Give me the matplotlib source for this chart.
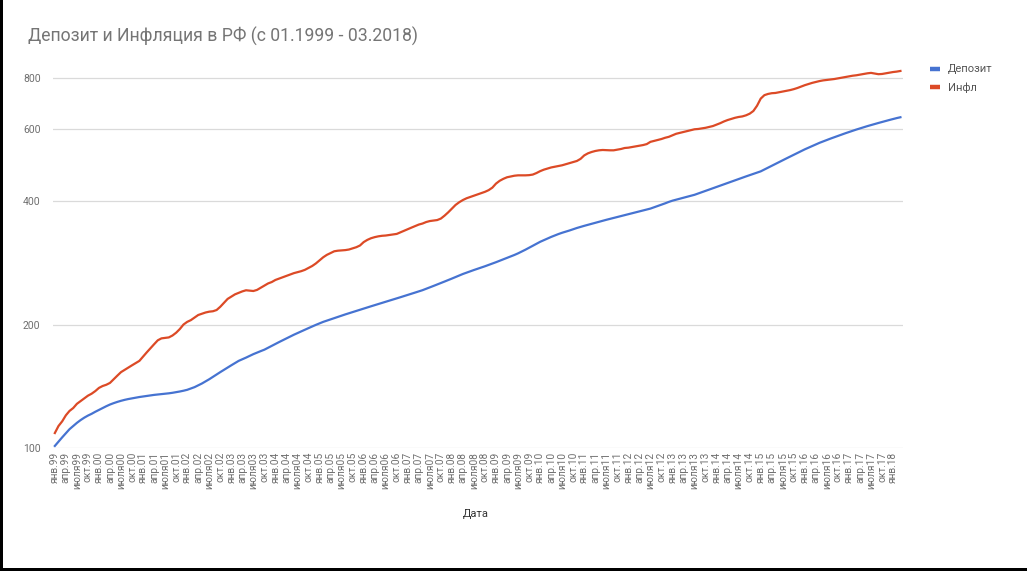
import matplotlib
matplotlib.use('Agg')
import matplotlib.pyplot as plt
from matplotlib.ticker import FixedLocator, NullLocator, FixedFormatter
from matplotlib.patches import Rectangle

plt.rcParams['font.family'] = ['Roboto', 'DejaVu Sans']

# ---------------- data ----------------
title = 'Депозит и Инфляция в РФ (с 01.1999 - 03.2018)'
x_title = 'Дата'
series_names = ['Депозит', 'Инфл']

quarter_names = ['янв.', 'апр.', 'июля', 'окт.']
years = list(range(1999, 2019))
n_months = 231  # 01.1999 .. 03.2018

deposit = [
    101, 103.5, 106, 108.5, 111, 113, 115, 116.8, 118.4, 119.8, 121, 122.4,
    123.7, 125, 126.3, 127.5, 128.5, 129.4, 130.2, 130.9, 131.5, 132, 132.5, 133,
    133.4, 133.8, 134.2, 134.6, 134.9, 135.2, 135.5, 135.8, 136.2, 136.7, 137.2, 137.8,
    138.5, 139.5, 140.6, 142, 143.5, 145.2, 147, 149, 151, 153, 155, 157,
    159, 161, 163, 164.5, 166, 167.7, 169.3, 170.8, 172.2, 173.6, 175.5, 177.4,
    179.3, 181.2, 183.1, 185, 187, 188.8, 190.6, 192.4, 194.2, 196, 197.8, 199.6,
    201.3, 203, 204.4, 205.9, 207.3, 208.8, 210.2, 211.7, 213.1, 214.6, 216, 217.4,
    218.8, 220.2, 221.6, 223, 224.5, 225.9, 227.3, 228.7, 230.2, 231.7, 233.2, 234.7,
    236.2, 237.8, 239.4, 241, 242.6, 244.5, 246.5, 248.5, 250.5, 252.6, 254.7, 256.8,
    259, 261.3, 263.6, 265.8, 267.8, 269.8, 271.8, 273.7, 275.6, 277.6, 279.7, 281.8,
    284, 286.3, 288.6, 291, 293.4, 295.8, 298.5, 301.5, 304.7, 308, 311.5, 315,
    318.5, 321.5, 324.5, 327.4, 330.2, 332.8, 335.2, 337.3, 339.5, 342, 344.3, 346.5,
    348.5, 350.5, 352.5, 354.5, 356.5, 358.5, 360.5, 362.4, 364.3, 366.2, 368.1, 370,
    372, 374, 376, 378, 380, 382, 384, 386.8, 389.6, 392.5, 395.5, 398.7,
    401.5, 403.8, 406, 408.2, 410.4, 412.6, 415, 418, 421, 424.2, 427.4, 430.6,
    433.8, 437, 440.3, 443.6, 447, 450.3, 453.6, 456.9, 460.2, 463.5, 466.8, 470.1,
    473.5, 478.5, 483.5, 488.7, 493.9, 499, 504, 509.3, 514.6, 520, 525.3, 530.6,
    536, 541, 546, 551, 556, 560.5, 565, 569.4, 573.7, 578, 582.3, 586.6,
    590.8, 595, 599, 603, 607, 610.7, 614.4, 618, 621.6, 625.2, 628.7, 632.2,
    635.6, 639, 642,
]

inflation = [
    108.6, 113, 116, 120, 123, 125, 128, 130, 132, 134, 135.5, 137.5,
    140, 141.5, 142.5, 144, 147, 150, 153, 155, 157, 159, 161, 163,
    167, 171, 175, 179, 183, 185, 185.5, 186, 188, 191, 195, 200,
    203, 205, 208, 211, 212.5, 214, 215, 215.5, 217, 221, 226, 231,
    234, 237, 239, 241, 242.5, 242, 241.5, 243, 246, 249, 252, 254,
    257, 259, 261, 263, 265, 267, 268.5, 270, 272, 275, 278, 282,
    287, 292, 296, 299, 302, 303, 303.5, 304, 305, 307, 309, 312,
    318, 322, 325, 327, 328.5, 329.5, 330, 331, 332, 333, 336, 339,
    342, 345, 348, 351, 353, 356, 358, 359, 360, 363, 369, 376,
    384, 392, 398, 403, 407, 410, 413, 416, 419, 422, 426, 432,
    442, 449, 454, 458, 460, 462, 463, 463, 463, 463.5, 465, 469,
    474, 478, 481, 484, 486, 488, 490, 493, 496, 499, 502, 508,
    518, 524, 528, 531, 533, 534, 533.5, 533, 533, 535, 537, 540,
    541, 543, 545, 547, 549, 552, 559, 562, 565, 568, 572, 575,
    580, 585, 588, 591, 594, 597, 600, 601, 603, 605, 608, 611,
    616, 621, 627, 632, 636, 640, 643, 645, 649, 655, 665, 685,
    713, 727, 732, 735, 736, 739, 742, 745, 748, 752, 757, 763,
    769, 774, 779, 783, 787, 790, 792, 794, 796, 799, 802, 805,
    808, 811, 813, 816, 819, 822, 824, 821, 818, 819, 822, 825,
    828, 830, 833,
]

y_ticks = [100, 200, 400, 600, 800]

# quarterly tick labels (every 3rd month)
tick_labels = []
for y in years:
    for q in quarter_names:
        if len(tick_labels) * 3 < n_months:
            tick_labels.append(f'{q}{y % 100:02d}')
tick_pos = [3 * i for i in range(len(tick_labels))]

# ---------------- figure ----------------
W, H = 1027, 571
fig = plt.figure(figsize=(W / 100, H / 100), dpi=100)
fig.patch.set_facecolor('white')

ax_left, ax_right = 53 / W, 903 / W
ax_top, ax_bot = 1 - 60 / H, 1 - 447.7 / H
ax = fig.add_axes([ax_left, ax_bot, ax_right - ax_left, ax_top - ax_bot])

months = list(range(n_months))
c_dep = '#4673d1'
c_inf = '#dc4a26'
l1, = ax.plot(months, deposit, color=c_dep, lw=1.6, label=series_names[0], zorder=3)
l2, = ax.plot(months, inflation, color=c_inf, lw=1.6, label=series_names[1], zorder=3)

ax.set_yscale('log')
ax.set_ylim(100, 886)
ax.set_xlim(-0.5, 230.7)
ax.yaxis.set_major_locator(FixedLocator(y_ticks))
ax.yaxis.set_major_formatter(FixedFormatter([str(v) for v in y_ticks]))
ax.yaxis.set_minor_locator(NullLocator())
ax.grid(axis='y', color='#dadada', lw=0.9, zorder=0)
ax.grid(axis='x', visible=False)
for s in ax.spines.values():
    s.set_visible(False)

ax.set_xticks(tick_pos)
ax.set_xticklabels(tick_labels, rotation=90, fontsize=7.3, color='#6f6f6f')
ax.tick_params(axis='x', length=0, pad=3)
ax.tick_params(axis='y', length=0, pad=9, labelsize=7.5, labelcolor='#6f6f6f')

fig.text(476 / W, 1 - 514 / H, x_title, fontsize=8, color='#333333',
         ha='center', va='center')

fig.text(28 / W, 1 - 36 / H, title, fontsize=12.7, color='#757575',
         ha='left', va='center')

leg = fig.legend(handles=[l1, l2], loc='upper left',
                 bbox_to_anchor=(930 / W, 1 - 64.5 / H), frameon=False,
                 fontsize=8, handlelength=0.9, handletextpad=0.7,
                 labelspacing=0.75, borderpad=0, borderaxespad=0)
for t in leg.get_texts():
    t.set_color('#555555')
for ln in leg.get_lines():
    ln.set_linewidth(3.2)
    ln.set_solid_capstyle('butt')

# dark frame edges of the screenshot
fig.patches.append(Rectangle((0, 0), 3 / W, 1, transform=fig.transFigure,
                             facecolor='black', edgecolor='none'))
fig.patches.append(Rectangle((0, 0), 1, 3 / H, transform=fig.transFigure,
                             facecolor='black', edgecolor='none'))

fig.savefig('out.png', dpi=100)
